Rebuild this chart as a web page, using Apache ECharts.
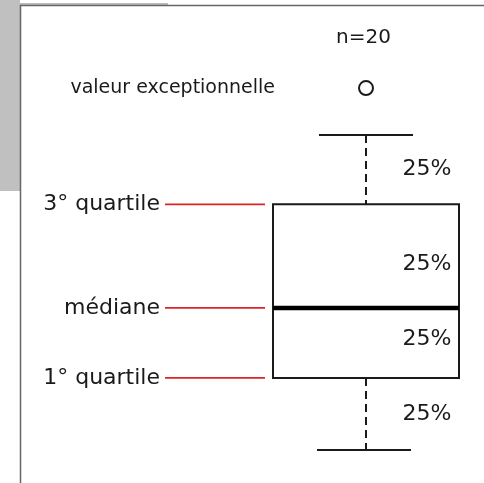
<!DOCTYPE html>
<html>
<head>
<meta charset="utf-8">
<script src="https://cdn.jsdelivr.net/npm/echarts@6/dist/echarts.min.js"></script>
<style>
  html, body { margin: 0; padding: 0; background: #fff; }
  #main { width: 484px; height: 483px; }
</style>
</head>
<body>
<div id="main"></div>
<script>
// box summary: min, Q1, median, Q3, max  (arbitrary units)
var boxStats = [0, 10.3, 20.3, 35.1, 45];
var outliers = [51.7];
var quartileNames = ['1° quartile', 'médiane', '3° quartile'];
var pctLabels = ['25%', '25%', '25%', '25%'];   // min-Q1, Q1-med, med-Q3, Q3-max
var sampleLabel = 'n=20';
var outlierLabel = 'valeur exceptionnelle';

var ink = '#1a1a1a';
var red = '#dc2626';
var font = 'DejaVu Sans';

var chart = echarts.init(document.getElementById('main'), null, {renderer: 'canvas'});

function renderBox(params, api) {
  var cx = api.coord([api.value(0), 0])[0];
  var yMin = api.coord([0, api.value(1)])[1];
  var yQ1 = api.coord([0, api.value(2)])[1];
  var yMed = api.coord([0, api.value(3)])[1];
  var yQ3 = api.coord([0, api.value(4)])[1];
  var yMax = api.coord([0, api.value(5)])[1];
  var halfBox = 93, halfCap = 47;
  var kids = [];

  // whiskers
  kids.push({type: 'line', shape: {x1: cx, y1: yMax, x2: cx, y2: yQ3},
    style: {stroke: ink, lineWidth: 2, lineDash: [8, 5]}});
  kids.push({type: 'line', shape: {x1: cx, y1: yQ1, x2: cx, y2: yMin},
    style: {stroke: ink, lineWidth: 2, lineDash: [8, 5]}});
  kids.push({type: 'line', shape: {x1: cx - halfCap, y1: yMax, x2: cx + halfCap, y2: yMax},
    style: {stroke: ink, lineWidth: 2}});
  kids.push({type: 'line', shape: {x1: cx - halfCap - 2, y1: yMin, x2: cx + halfCap - 2, y2: yMin},
    style: {stroke: ink, lineWidth: 2}});

  // box + median
  kids.push({type: 'rect', shape: {x: cx - halfBox, y: yQ3, width: halfBox * 2, height: yQ1 - yQ3},
    style: {fill: '#fff', stroke: ink, lineWidth: 2}});
  kids.push({type: 'line', shape: {x1: cx - halfBox, y1: yMed, x2: cx + halfBox, y2: yMed},
    style: {stroke: '#000', lineWidth: 4.5}});

  // left annotations with red pointers
  var qy = [yQ1, yMed, yQ3];
  for (var i = 0; i < quartileNames.length; i++) {
    kids.push({type: 'line', shape: {x1: 165, y1: qy[i], x2: cx - halfBox - 8, y2: qy[i]},
      style: {stroke: red, lineWidth: 1.8}});
    kids.push({type: 'text', x: 160, y: qy[i],
      style: {text: quartileNames[i], fill: ink, font: '22px "' + font + '"',
        align: 'right', verticalAlign: 'middle'}});
  }

  // 25% labels in each quarter
  var edges = [yMin, yQ1, yMed, yQ3, yMax];
  var nudge = [0, -4, 8, 0];
  for (var j = 0; j < pctLabels.length; j++) {
    kids.push({type: 'text', x: cx + 61, y: (edges[j] + edges[j + 1]) / 2 + nudge[j],
      style: {text: pctLabels[j], fill: ink, font: '22px "' + font + '"',
        align: 'center', verticalAlign: 'middle'}});
  }
  return {type: 'group', children: kids};
}

chart.setOption({
  animation: false,
  backgroundColor: '#fff',
  title: {
    text: sampleLabel, left: 331, top: 23,
    textStyle: {fontFamily: font, fontSize: 20, fontWeight: 'normal', color: ink}
  },
  grid: {left: 248, right: 0, top: 2, bottom: 5},
  xAxis: {type: 'category', data: [sampleLabel], show: false},
  yAxis: {type: 'value', min: -4, max: 64, show: false},
  graphic: [
    {type: 'rect', shape: {x: 0, y: 0, width: 20, height: 191}, style: {fill: '#c0c0c0'}, z: -1},
    {type: 'rect', shape: {x: 20, y: 3, width: 148, height: 2}, style: {fill: '#bdbdbd'}, z: -1},
    {type: 'line', shape: {x1: 20, y1: 5.5, x2: 484, y2: 5.5}, style: {stroke: '#666', lineWidth: 1.5}, z: -1},
    {type: 'line', shape: {x1: 20.5, y1: 5, x2: 20.5, y2: 483}, style: {stroke: '#666', lineWidth: 1.5}, z: -1}
  ],
  series: [
    {
      type: 'custom',
      renderItem: renderBox,
      data: [[0].concat(boxStats)],
      encode: {x: 0, y: [1, 2, 3, 4, 5]}
    },
    {
      type: 'scatter',
      symbol: 'emptyCircle',
      symbolSize: 14,
      itemStyle: {color: ink, borderWidth: 2, opacity: 1},
      data: outliers.map(function (v) { return [0, v]; }),
      label: {
        show: true, position: 'left', distance: 83,
        formatter: outlierLabel,
        fontFamily: font, fontSize: 19, color: ink
      }
    }
  ]
});
</script>
</body>
</html>
